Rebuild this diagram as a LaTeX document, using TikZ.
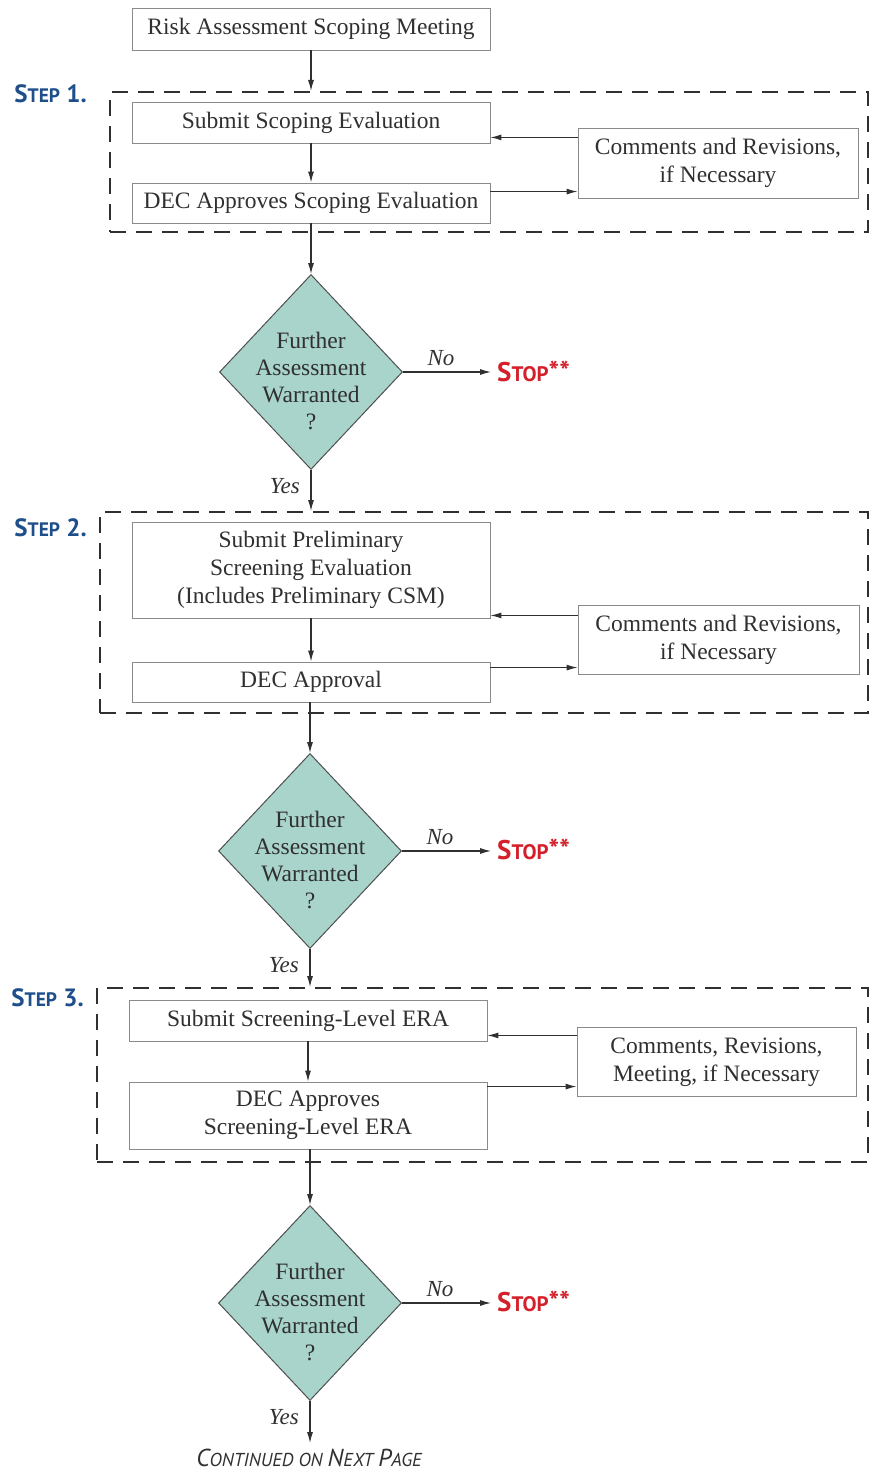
\documentclass[tikz,border=0pt]{standalone}
\usepackage{fontspec}
\setmainfont{Liberation Serif}
\newfontfamily\labfont{PT Sans}
\usetikzlibrary{arrows.meta,shapes.geometric,calc}
\definecolor{stepblue}{HTML}{1F4F8B}
\definecolor{stopred}{HTML}{D3202A}
\definecolor{diafill}{HTML}{A8D4CB}
\definecolor{boxline}{HTML}{8A8A8A}
\definecolor{ink}{HTML}{303030}
\newcommand\boxfont{\fontsize{23.5}{28}\selectfont}
\newcommand\diafont{\fontsize{23.5}{27}\selectfont}
\newcommand\steplbl[1]{{\labfont\bfseries\color{stepblue}{\fontsize{25}{25}\selectfont S}{\fontsize{19.5}{19.5}\selectfont TEP}{\fontsize{25}{25}\selectfont\ #1.}}}
\newcommand\stoplbl{{\labfont\bfseries\color{stopred}{\fontsize{27}{27}\selectfont S}{\fontsize{21}{21}\selectfont TOP}{\fontsize{28}{28}\selectfont **}}}
\newcommand\bigsc[1]{{\fontsize{24.5}{24.5}\selectfont #1}}
\begin{document}
\begin{tikzpicture}[x=1pt,y=-1pt,
  box/.style={draw=boxline,line width=0.9pt,fill=white,inner sep=0pt,align=center,font=\boxfont,text=ink},
  dashbox/.style={draw=ink,line width=2pt,dash pattern=on 16pt off 10pt,inner sep=0pt},
  dia/.style={diamond,draw=ink!85,fill=diafill,line width=1pt,inner sep=0pt,minimum width=183pt,minimum height=195pt},
  diatext/.style={font=\diafont,text=ink,align=center,inner sep=0pt},
  arr/.style={draw=ink,line width=1.1pt,-{Latex[length=11pt,width=6pt]}},
  lab/.style={font=\fontsize{23}{23}\selectfont\itshape,text=ink,inner sep=0pt},
  steptxt/.style={inner sep=0pt,anchor=base east},
  stoptxt/.style={inner sep=0pt,anchor=base west},
]
\useasboundingbox (0,0) rectangle (870,1471);

% ---------- dashed step frames ----------
\node[dashbox,minimum width=758pt,minimum height=140pt] (s1) at (489,162) {};
\node[dashbox,minimum width=768pt,minimum height=201pt] (s2) at (484,612.5) {};
\node[dashbox,minimum width=771pt,minimum height=174pt] (s3) at (482.5,1075) {};

\node[steptxt] (l1) at (87,103) {\steplbl{1}};
\node[steptxt] (l2) at (87,536) {\steplbl{2}};
\node[steptxt] (l3) at (84,1006) {\steplbl{3}};

% ---------- step 1 ----------
\node[box,minimum width=358pt,minimum height=42pt] (r) at (311,29) {Risk Assessment Scoping Meeting};
\node[box,minimum width=358pt,minimum height=41pt] (se) at (311,122.5) {Submit Scoping Evaluation};
\node[box,minimum width=358pt,minimum height=40pt] (de) at (311,203) {DEC Approves Scoping Evaluation};
\node[box,minimum width=280pt,minimum height=70pt] (c1) at (718,163) {Comments and Revisions,\\ if Necessary};

\draw[arr] (r.south) -- (r.south |- s1.north);
\draw[arr] (se.south) -- (de.north);
\coordinate (a1) at ([yshift=6pt]se.south east);
\draw[arr] (c1.west |- a1) -- (a1);
\coordinate (b1) at ([yshift=-9pt]de.north east);
\draw[arr] (b1) -- (c1.west |- b1);

% ---------- decision 1 ----------
\node[dia] (d1) at (311,372) {};
\node[diatext] (t1) at ($(d1.center)+(0,9)$) {Further\\Assessment\\Warranted\\?};
\draw[arr] (de.south) -- (d1.north);
\node[stoptxt] (st1) at ($(d1.center)+(186,9)$) {\stoplbl};
\draw[arr,shorten >=6pt] (d1.east) -- (d1.east -| st1.west);
\node[lab,anchor=base] (n1) at ($(d1.east)+(38,-7)$) {No};
\node[lab,anchor=base east] (y1) at ($(d1.south)+(-11,23)$) {Yes};
\draw[arr] (d1.south) -- (d1.south |- s2.north);

% ---------- step 2 ----------
\node[box,minimum width=358pt,minimum height=96pt] (sp) at (311,570) {Submit Preliminary\\Screening Evaluation\\(Includes Preliminary CSM)};
\node[box,minimum width=358pt,minimum height=40pt] (da) at (311,682) {DEC Approval};
\node[box,minimum width=281pt,minimum height=69pt] (c2) at (718.5,639.5) {Comments and Revisions,\\ if Necessary};

\draw[arr] (sp.south) -- (da.north);
\coordinate (a2) at ([yshift=3pt]sp.south east);
\draw[arr] (c2.west |- a2) -- (a2);
\coordinate (b2) at ([yshift=-6pt]da.north east);
\draw[arr] (b2) -- (c2.west |- b2);

% ---------- decision 2 ----------
\node[dia] (d2) at (310,851) {};
\node[diatext] (t2) at ($(d2.center)+(0,9)$) {Further\\Assessment\\Warranted\\?};
\draw[arr] (da.south -| d2.north) -- (d2.north);
\node[stoptxt] (st2) at ($(d2.center)+(187,8)$) {\stoplbl};
\draw[arr,shorten >=6pt] (d2.east) -- (d2.east -| st2.west);
\node[lab,anchor=base] (n2) at ($(d2.east)+(38,-7)$) {No};
\node[lab,anchor=base east] (y2) at ($(d2.south)+(-11,23)$) {Yes};
\draw[arr] (d2.south) -- (d2.south |- s3.north);

% ---------- step 3 ----------
\node[box,minimum width=358pt,minimum height=41pt] (ss) at (308,1020.5) {Submit Screening-Level ERA};
\node[box,minimum width=358pt,minimum height=67pt] (ds) at (308,1115.5) {DEC Approves\\Screening-Level ERA};
\node[box,minimum width=279pt,minimum height=69pt] (c3) at (716.5,1062) {Comments, Revisions,\\Meeting, if Necessary};

\draw[arr] (ss.south) -- (ds.north);
\coordinate (a3) at ([yshift=6pt]ss.south east);
\draw[arr] (c3.west |- a3) -- (a3);
\coordinate (b3) at ([yshift=-5pt]ds.north east);
\draw[arr] (b3) -- (c3.west |- b3);

% ---------- decision 3 ----------
\node[dia] (d3) at (310,1303) {};
\node[diatext] (t3) at ($(d3.center)+(0,9)$) {Further\\Assessment\\Warranted\\?};
\draw[arr] (ds.south -| d3.north) -- (d3.north);
\node[stoptxt] (st3) at ($(d3.center)+(187,8)$) {\stoplbl};
\draw[arr,shorten >=6pt] (d3.east) -- (d3.east -| st3.west);
\node[lab,anchor=base] (n3) at ($(d3.east)+(38,-7)$) {No};
\node[lab,anchor=base east] (y3) at ($(d3.south)+(-11,23)$) {Yes};
\coordinate (end) at ($(d3.south)+(0,42)$);
\draw[arr] (d3.south) -- (end);

\node[inner sep=0pt,anchor=base,text=ink] (cont) at (309,1466) {\labfont\itshape\fontsize{18.7}{18.7}\selectfont \bigsc{C}ONTINUED ON \bigsc{N}EXT \bigsc{P}AGE};
\end{tikzpicture}
\end{document}
